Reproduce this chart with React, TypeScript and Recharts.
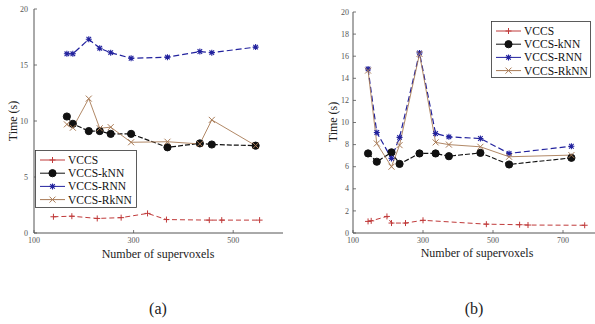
import React from 'react';
import { LineChart, Line, XAxis, YAxis, Legend, Label } from 'recharts';

const seriesNames = ['VCCS', 'VCCS-kNN', 'VCCS-RNN', 'VCCS-RkNN'];
const seriesColors = ['#c03a3a', '#111111', '#22229e', '#a87a55'];
const captions = ['(a)', '(b)'];
const axisTitleX = 'Number of supervoxels';
const axisTitleY = 'Time (s)';

// chart (a)
const aVccsX = [139, 176, 227, 275, 328, 366, 452, 477, 553];
const aVccsY = [1.45, 1.5, 1.3, 1.37, 1.75, 1.2, 1.15, 1.15, 1.15];
const aX = [166, 178, 210, 232, 254, 295, 368, 433, 457, 545];
const aKnn = [10.4, 9.75, 9.1, 9.1, 8.85, 8.85, 7.65, 8.0, 7.9, 7.8];
const aRnn = [16.0, 16.0, 17.3, 16.5, 16.1, 15.6, 15.7, 16.2, 16.1, 16.6];
const aRknn = [9.7, 9.4, 12.0, 9.35, 9.45, 8.1, 8.15, 7.95, 10.1, 7.8];
const aXTicks = [100, 300, 500];
const aYTicks = [0, 5, 10, 15, 20];

// chart (b)
const bVccsX = [143, 152, 197, 210, 250, 300, 481, 576, 600, 762];
const bVccsY = [1.05, 1.1, 1.5, 0.9, 0.9, 1.15, 0.8, 0.75, 0.72, 0.7];
const bX = [143, 168, 210, 233, 290, 336, 374, 464, 546, 724];
const bKnn = [7.2, 6.45, 7.3, 6.25, 7.2, 7.2, 6.95, 7.25, 6.2, 6.8];
const bRnn = [14.85, 9.1, 6.75, 8.65, 16.3, 9.0, 8.7, 8.55, 7.2, 7.85];
const bRknn = [14.7, 8.1, 6.0, 7.95, 16.2, 8.2, 8.0, 7.8, 6.9, 7.05];
const bXTicks = [100, 300, 500, 700];
const bYTicks = [0, 2, 4, 6, 8, 10, 12, 14, 16, 18, 20];

const zip = (xs: number[], ys: number[]) => xs.map((x, i) => ({ x, y: ys[i] }));

const SERIF = "'Liberation Serif', Tinos, 'Times New Roman', Times, 'DejaVu Serif', serif";
const AX = '#555';

function Marker({ kind, cx, cy, color }: { kind: number; cx: number; cy: number; color: string }) {
  const s = 3;
  if (kind === 0)
    return <path d={`M${cx - s},${cy}h${2 * s}M${cx},${cy - s}v${2 * s}`} stroke={color} strokeWidth={1} fill="none" />;
  if (kind === 1) return <circle cx={cx} cy={cy} r={3.6} fill={color} stroke={color} />;
  if (kind === 2)
    return (
      <path
        d={`M${cx - s},${cy}h${2 * s}M${cx},${cy - s}v${2 * s}M${cx - 2.3},${cy - 2.3}l4.6,4.6M${cx - 2.3},${cy + 2.3}l4.6,-4.6`}
        stroke={color}
        strokeWidth={1.1}
        fill="none"
      />
    );
  return (
    <path d={`M${cx - s},${cy - s}l${2 * s},${2 * s}M${cx - s},${cy + s}l${2 * s},${-2 * s}`} stroke={color} strokeWidth={1} fill="none" />
  );
}

const dotFor = (kind: number) => (p: any) => (
  <g key={`d${kind}-${p.index}`}>
    <Marker kind={kind} cx={p.cx} cy={p.cy} color={seriesColors[kind]} />
  </g>
);

const LegendBox = ({ w, h }: { w: number; h: number }) => (
  <svg width={w} height={h} style={{ display: 'block' }}>
    <rect x={0.5} y={0.5} width={w - 1} height={h - 1} fill="#fff" stroke="#333" strokeWidth={0.8} />
    {seriesNames.map((n, i) => {
      const y = 10 + i * 13.2;
      return (
        <g key={n}>
          <line x1={5} x2={30} y1={y} y2={y} stroke={seriesColors[i]} strokeWidth={1} />
          <Marker kind={i} cx={17.5} cy={y} color={seriesColors[i]} />
          <text x={33} y={y} dy="0.35em" style={{ fontFamily: SERIF }} fontSize={11.5} fill="#111">
            {n}
          </text>
        </g>
      );
    })}
  </svg>
);

const bottomTick = (p: any) => (
  <g>
    <line x1={p.x} x2={p.x} y1={p.y} y2={p.y - 3} stroke={AX} strokeWidth={0.8} />
    <text x={p.x} y={p.y + 10} textAnchor="middle" style={{ fontFamily: SERIF }} fontSize={8} fill={AX}>
      {p.payload.value}
    </text>
  </g>
);
const leftTick = (gap: number) => (p: any) => (
  <g>
    <line x1={p.x} x2={p.x + 3} y1={p.y} y2={p.y} stroke={AX} strokeWidth={0.8} />
    <text x={p.x - gap} y={p.y} dy="0.33em" textAnchor="end" style={{ fontFamily: SERIF }} fontSize={8} fill={AX}>
      {p.payload.value}
    </text>
  </g>
);
const topTick = (p: any) => <line x1={p.x} x2={p.x} y1={p.y} y2={p.y + 3} stroke={AX} strokeWidth={0.8} />;
const rightTick = (p: any) => <line x1={p.x} x2={p.x - 3} y1={p.y} y2={p.y} stroke={AX} strokeWidth={0.8} />;

type PanelProps = {
  margin: { top: number; right: number; bottom: number; left: number };
  yWidth: number;
  xDomain: [number, number];
  xTicks: number[];
  yTicks: number[];
  vccs: { x: number; y: number }[];
  knn: { x: number; y: number }[];
  rnn: { x: number; y: number }[];
  rknn: { x: number; y: number }[];
  legendPos: { left: number; top: number; width: number; height: number };
  xLabelPos: [number, number];
  yLabelPos: [number, number];
  yTickGap: number;
  dashes: string[];
};

function Panel(p: PanelProps) {
  return (
    <LineChart width={300} height={270} margin={p.margin}>
      <XAxis
        dataKey="x"
        type="number"
        domain={p.xDomain}
        ticks={p.xTicks}
        interval={0}
        allowDataOverflow
        height={20}
        stroke={AX}
        tickLine={false}
        tickSize={0}
        tickMargin={0}
        tick={bottomTick}
        label={
          <Label
            content={() => (
              <text x={p.xLabelPos[0]} y={p.xLabelPos[1]} textAnchor="middle" style={{ fontFamily: SERIF }} fontSize={12} fill="#222">
                {axisTitleX}
              </text>
            )}
          />
        }
      />
      <XAxis
        xAxisId="top"
        orientation="top"
        dataKey="x"
        type="number"
        domain={p.xDomain}
        ticks={p.xTicks}
        interval={0}
        allowDataOverflow
        height={0}
        stroke={AX}
        tickLine={false}
        tickSize={0}
        tickMargin={0}
        tick={topTick}
      />
      <YAxis
        type="number"
        domain={[0, 20]}
        ticks={p.yTicks}
        interval={0}
        width={p.yWidth}
        stroke={AX}
        tickLine={false}
        tickSize={0}
        tickMargin={0}
        tick={leftTick(p.yTickGap)}
        label={
          <Label
            content={() => (
              <text
                transform={`translate(${p.yLabelPos[0]},${p.yLabelPos[1]}) rotate(-90)`}
                textAnchor="middle"
                dy="0.35em"
                style={{ fontFamily: SERIF }}
                fontSize={12}
                fill="#222"
              >
                {axisTitleY}
              </text>
            )}
          />
        }
      />
      <YAxis
        yAxisId="right"
        orientation="right"
        type="number"
        domain={[0, 20]}
        ticks={p.yTicks}
        interval={0}
        width={0}
        stroke={AX}
        tickLine={false}
        tickSize={0}
        tickMargin={0}
        tick={rightTick}
      />
      <Line data={p.vccs} dataKey="y" stroke={seriesColors[0]} strokeWidth={1} strokeDasharray={p.dashes[0]} dot={dotFor(0)} isAnimationActive={false} />
      <Line data={p.knn} dataKey="y" stroke={seriesColors[1]} strokeWidth={1.2} strokeDasharray={p.dashes[1]} dot={dotFor(1)} isAnimationActive={false} />
      <Line data={p.rnn} dataKey="y" stroke={seriesColors[2]} strokeWidth={1.2} strokeDasharray={p.dashes[2]} dot={dotFor(2)} isAnimationActive={false} />
      <Line data={p.rknn} dataKey="y" stroke={seriesColors[3]} strokeWidth={0.9} strokeDasharray={p.dashes[3]} dot={dotFor(3)} isAnimationActive={false} />
      <Legend
        layout="horizontal"
        verticalAlign="middle"
        align="center"
        wrapperStyle={{ position: 'absolute', ...p.legendPos }}
        content={() => <LegendBox w={p.legendPos.width} h={p.legendPos.height} />}
      />
    </LineChart>
  );
}

export default function App() {
  return (
    <div style={{ position: 'absolute', left: 0, top: 0, width: 595, height: 324, overflow: 'hidden', background: '#fff' }}>
      <div style={{ position: 'absolute', left: 0, top: 0 }}>
        <Panel
          margin={{ top: 9, right: 17, bottom: 17, left: 0 }}
          yWidth={34}
          xDomain={[100, 600]}
          xTicks={aXTicks}
          yTicks={aYTicks}
          vccs={zip(aVccsX, aVccsY)}
          knn={zip(aX, aKnn)}
          rnn={zip(aX, aRnn)}
          rknn={zip(aX, aRknn)}
          legendPos={{ left: 35, top: 150, width: 102, height: 58 }}
          xLabelPos={[158, 258]}
          yLabelPos={[13, 121]}
          yTickGap={6}
          dashes={['5 3', '5 2', '6 3', '']}
        />
      </div>
      <div style={{ position: 'absolute', left: 300, top: 0 }}>
        <Panel
          margin={{ top: 12, right: 2, bottom: 17, left: 0 }}
          yWidth={53}
          xDomain={[100, 800]}
          xTicks={bXTicks}
          yTicks={bYTicks}
          vccs={zip(bVccsX, bVccsY)}
          knn={zip(bX, bKnn)}
          rnn={zip(bX, bRnn)}
          rknn={zip(bX, bRknn)}
          legendPos={{ left: 191, top: 21, width: 100, height: 57 }}
          xLabelPos={[177, 257]}
          yLabelPos={[33, 122]}
          yTickGap={4}
          dashes={['5 3', '5 2', '6 3', '']}
        />
      </div>
      {captions.map((c, i) => (
        <div
          key={c}
          style={{
            position: 'absolute',
            left: i === 0 ? 138 : 454,
            top: 300,
            width: 40,
            textAlign: 'center',
            fontFamily: SERIF,
            fontSize: 16,
            color: '#222',
          }}
        >
          {c}
        </div>
      ))}
    </div>
  );
}
